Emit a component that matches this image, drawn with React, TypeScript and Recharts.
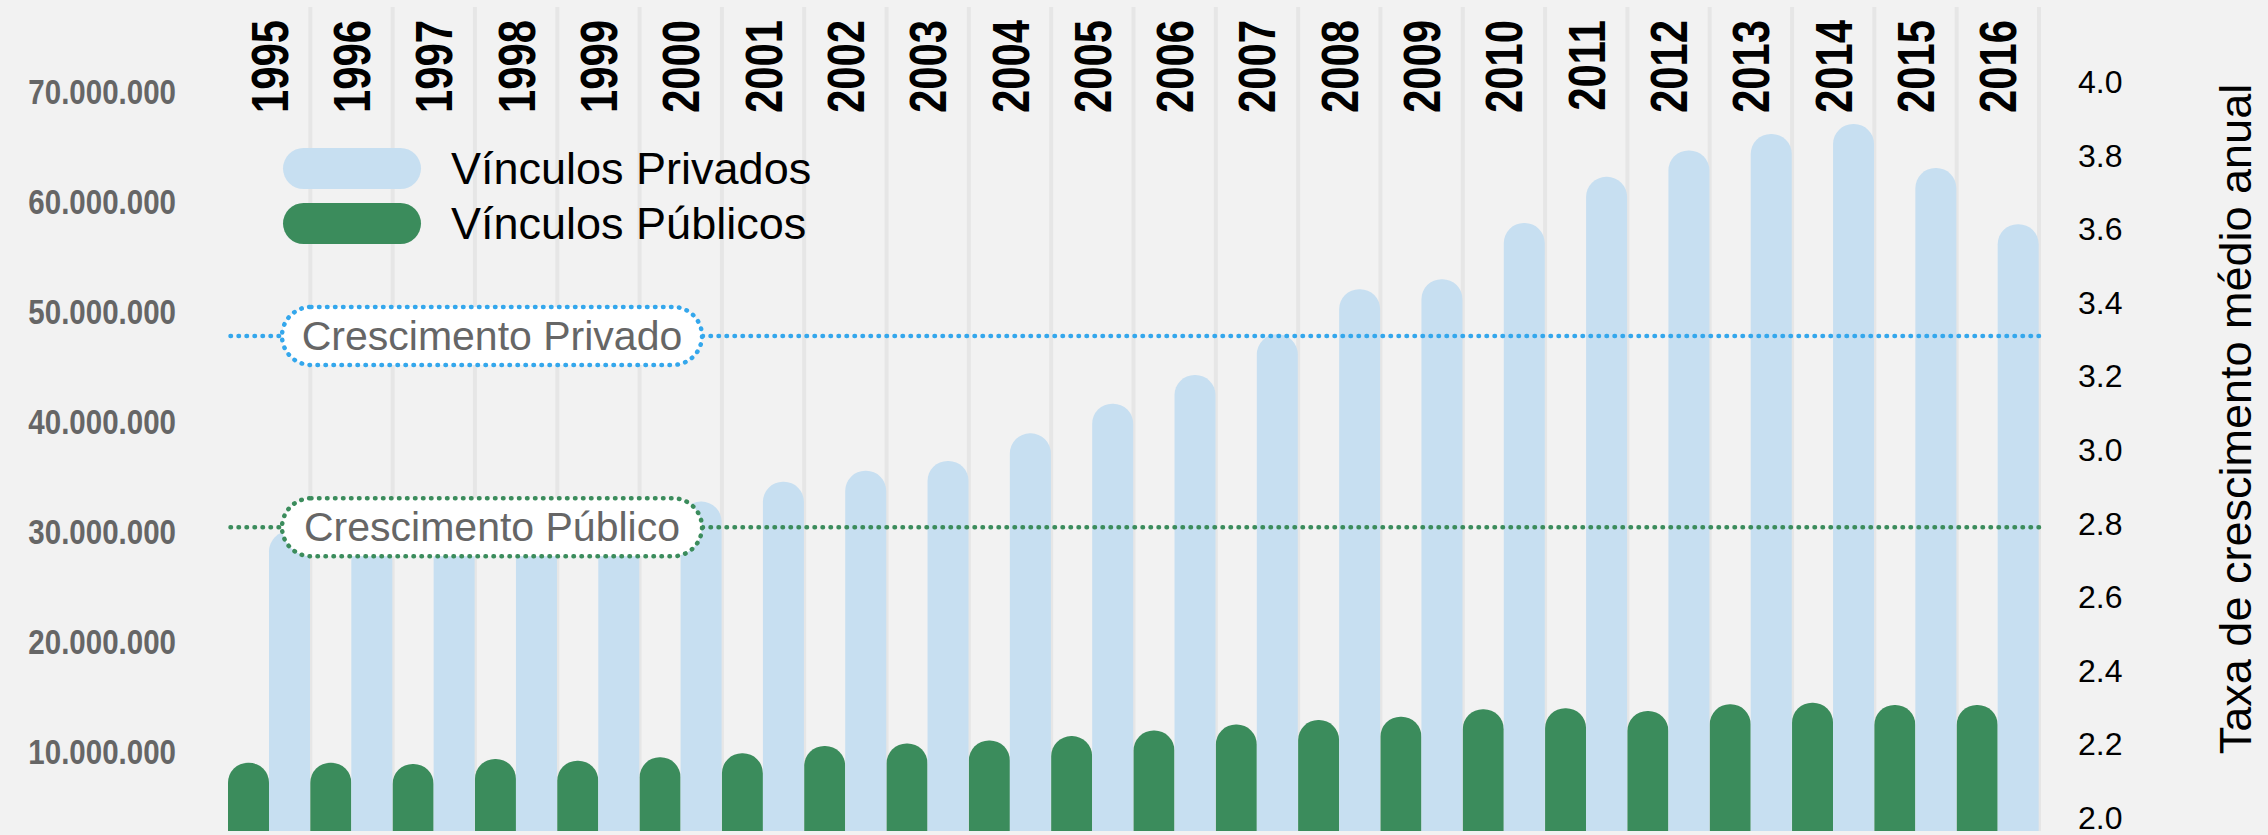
import {
  Bar,
  CartesianGrid,
  ComposedChart,
  Label,
  Legend,
  ReferenceLine,
  XAxis,
  YAxis,
} from "recharts";

const YEARS = [
  "1995", "1996", "1997", "1998", "1999", "2000", "2001", "2002", "2003", "2004", "2005",
  "2006", "2007", "2008", "2009", "2010", "2011", "2012", "2013", "2014", "2015", "2016",
];

// vínculos por ano
const PRIVADOS = [
  30.0e6, 29.2e6, 29.5e6, 29.4e6, 30.2e6, 32.7e6, 34.5e6, 35.5e6, 36.4e6, 38.9e6, 41.6e6,
  44.2e6, 47.9e6, 52.0e6, 52.9e6, 58.0e6, 62.2e6, 64.6e6, 66.1e6, 67.0e6, 63.0e6, 57.9e6,
];
const PUBLICOS = [
  8.98e6, 8.98e6, 8.87e6, 9.32e6, 9.17e6, 9.47e6, 9.84e6, 10.5e6, 10.73e6, 11.0e6, 11.4e6,
  11.9e6, 12.45e6, 12.86e6, 13.16e6, 13.84e6, 13.93e6, 13.68e6, 14.29e6, 14.43e6, 14.23e6, 14.23e6,
];

const COUNT_TICKS = [10e6, 20e6, 30e6, 40e6, 50e6, 60e6, 70e6];
const RATE_TICKS = [2.0, 2.2, 2.4, 2.6, 2.8, 3.0, 3.2, 3.4, 3.6, 3.8, 4.0];

const GROWTH_PRIVADO = 3.31;
const GROWTH_PUBLICO = 2.79;

const SERIES_NAMES = ["Vínculos Privados", "Vínculos Públicos"];
const GROWTH_NAMES = ["Crescimento Privado", "Crescimento Público"];
const RIGHT_TITLE = "Taxa de crescimento médio anual";

const BLUE = "#c7dff1";
const GREEN = "#3b8c5c";
const LINE_BLUE = "#34a7ec";
const BG = "#f2f2f2";

const FONT = "'Liberation Sans', Arial, sans-serif";
// no narrow face installed: squeeze the regular one instead
const NARROW_SCALE = 0.82;

const data = YEARS.map((year, i) => ({
  year,
  privados: PRIVADOS[i],
  publicos: PUBLICOS[i],
}));

const fmtCount = (v: number) => String(Math.round(v)).replace(/\B(?=(\d{3})+(?!\d))/g, ".");

function YearTick(props: any) {
  const { x, payload } = props;
  return (
    <text
      transform={`translate(${x + 1}, 20) rotate(-90) scale(${NARROW_SCALE}, 1)`}
      textAnchor="end"
      dominantBaseline="central"
      fontFamily={FONT}
      fontWeight="bold"
      fontSize={51}
      fill="#000"
    >
      {payload.value}
    </text>
  );
}

function CountTick(props: any) {
  const { x, y, payload } = props;
  return (
    <text
      transform={`translate(${x}, ${y}) scale(${NARROW_SCALE}, 1)`}
      textAnchor="end"
      dominantBaseline="central"
      fontFamily={FONT}
      fontWeight="bold"
      fontSize={36}
      fill="#666"
    >
      {fmtCount(payload.value)}
    </text>
  );
}

function RateTick(props: any) {
  const { x, y, payload } = props;
  return (
    <text x={x} y={y} textAnchor="start" dominantBaseline="central" fontFamily={FONT} fontSize={32} fill="#000">
      {Number(payload.value).toFixed(1)}
    </text>
  );
}

function RightTitle(props: any) {
  const { viewBox } = props;
  const x = viewBox.x + viewBox.width - 33;
  return (
    <text
      transform={`translate(${x}, 419) rotate(-90)`}
      textAnchor="middle"
      dominantBaseline="central"
      fontFamily={FONT}
      fontSize={45}
      fill="#000"
    >
      {RIGHT_TITLE}
    </text>
  );
}

const growthLabel = (text: string, color: string) =>
  function GrowthLabel(props: any) {
    const { viewBox } = props;
    const w = 420;
    const h = 58;
    const left = viewBox.x + 54;
    const cy = viewBox.y;
    return (
      <g>
        <rect
          x={left}
          y={cy - h / 2}
          width={w}
          height={h}
          rx={h / 2}
          fill="#fff"
          stroke={color}
          strokeWidth={4.5}
          strokeDasharray="0.5 7.5"
          strokeLinecap="round"
        />
        <text x={left + w / 2} y={cy} textAnchor="middle" dominantBaseline="central" fontFamily={FONT} fontSize={41} fill="#666">
          {text}
        </text>
      </g>
    );
  };

function LegendBox() {
  const colors = [BLUE, GREEN];
  return (
    <div>
      {SERIES_NAMES.map((name, i) => (
        <div key={name} style={{ display: "flex", alignItems: "center", height: 55 }}>
          <div style={{ width: 138, height: 41, borderRadius: 20.5, background: colors[i] }} />
          <span style={{ marginLeft: 30, fontFamily: FONT, fontSize: 45, color: "#000", lineHeight: "55px" }}>{name}</span>
        </div>
      ))}
    </div>
  );
}

export default function App() {
  return (
    <div style={{ position: "absolute", left: 0, top: 0, width: 2268, height: 835, background: BG }}>
      <ComposedChart
        width={2268}
        height={835}
        data={data}
        margin={{ top: 0, right: 0, bottom: 4, left: 0 }}
        barCategoryGap={0}
        barGap={0}
      >
        <CartesianGrid
          horizontal={false}
          stroke="#e6e6e6"
          strokeWidth={4}
          verticalCoordinatesGenerator={({ offset }: any) =>
            YEARS.map((_, i) => offset.left + ((i + 1) * offset.width) / YEARS.length)
          }
        />
        <XAxis
          dataKey="year"
          orientation="top"
          height={7}
          axisLine={false}
          tickLine={false}
          interval={0}
          tick={<YearTick />}
        />
        <YAxis
          yAxisId="left"
          orientation="left"
          width={228}
          type="number"
          domain={[2.78e6, 77.63e6]}
          allowDataOverflow
          ticks={COUNT_TICKS}
          axisLine={false}
          tickLine={false}
          tickMargin={46}
          tick={<CountTick />}
        />
        <YAxis
          yAxisId="right"
          orientation="right"
          width={229}
          type="number"
          domain={[1.9647, 4.2038]}
          allowDataOverflow
          ticks={RATE_TICKS}
          axisLine={false}
          tickLine={false}
          tickMargin={33}
          tick={<RateTick />}
        >
          <Label content={<RightTitle />} />
        </YAxis>
        <Legend
          verticalAlign="middle"
          align="center"
          content={<LegendBox />}
          wrapperStyle={{ left: 283, top: 141, width: "auto" }}
        />
        <Bar yAxisId="left" dataKey="publicos" name={SERIES_NAMES[1]} fill={GREEN} radius={[20, 20, 0, 0]} isAnimationActive={false} />
        <Bar yAxisId="left" dataKey="privados" name={SERIES_NAMES[0]} fill={BLUE} radius={[20, 20, 0, 0]} isAnimationActive={false} />
        <ReferenceLine
          yAxisId="right"
          y={GROWTH_PRIVADO}
          stroke={LINE_BLUE}
          strokeWidth={4.5}
          strokeDasharray="0.5 7.5"
          strokeLinecap="round"
        >
          <Label content={growthLabel(GROWTH_NAMES[0], LINE_BLUE)} />
        </ReferenceLine>
        <ReferenceLine
          yAxisId="right"
          y={GROWTH_PUBLICO}
          stroke={GREEN}
          strokeWidth={4.5}
          strokeDasharray="0.5 7.5"
          strokeLinecap="round"
        >
          <Label content={growthLabel(GROWTH_NAMES[1], GREEN)} />
        </ReferenceLine>
      </ComposedChart>
    </div>
  );
}
